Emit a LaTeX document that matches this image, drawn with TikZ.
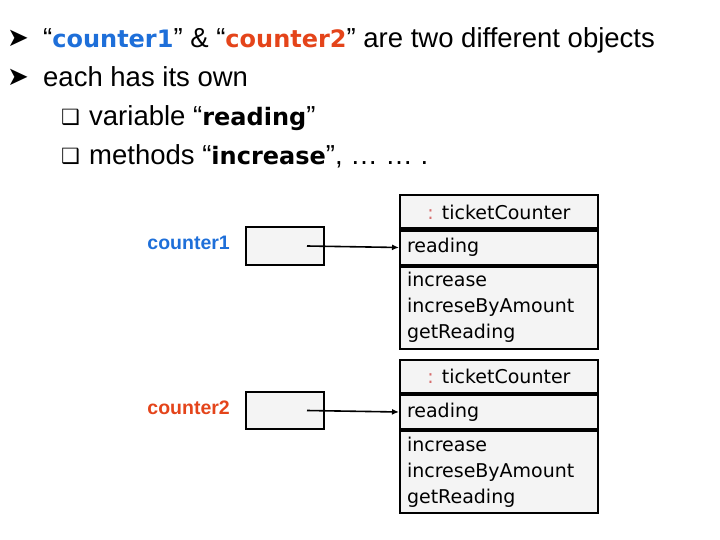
\documentclass[tikz,border=0pt]{standalone}
\usepackage{fontspec}
\setmainfont{Liberation Sans}
\newfontfamily\symfont{DejaVu Sans}
\newfontfamily\uifont{DejaVu Sans}
\newfontfamily\keyfont{DejaVu Sans}
\usetikzlibrary{arrows.meta}

\definecolor{objblue}{RGB}{30,111,217}
\definecolor{objred}{RGB}{228,68,26}
\definecolor{colonred}{RGB}{214,110,110}
\definecolor{boxgray}{RGB}{244,244,244}

\newcommand{\kw}[1]{{\keyfont\bfseries\fontsize{24}{28}\selectfont #1}}

\begin{document}
\begin{tikzpicture}[
  x=1pt, y=-1pt,
  txt/.style={anchor=base west, inner sep=0pt, font=\fontsize{27.5}{30}\selectfont},
  bul/.style={anchor=base west, inner sep=0pt, font=\symfont\fontsize{26}{28}\selectfont},
  chk/.style={anchor=base west, inner sep=0pt, font=\symfont\fontsize{21}{26}\selectfont},
  refbox/.style={draw, line width=2pt, fill=boxgray, minimum width=78pt,
                 minimum height=37pt, inner sep=0pt},
  vname/.style={anchor=east, inner sep=0pt, font=\bfseries\fontsize{19.5}{22}\selectfont},
  hdr/.style={draw, line width=2pt, fill=boxgray, minimum width=198pt,
              minimum height=33pt, inner sep=0pt, font=\uifont\fontsize{19}{22}\selectfont},
  attr/.style={draw, line width=2pt, fill=boxgray, minimum width=198pt,
               minimum height=34pt, inner sep=0pt, font=\uifont\fontsize{19}{22}\selectfont},
  meth/.style={draw, line width=2pt, fill=boxgray, text width=184pt, align=left,
               minimum height=82pt, inner xsep=7pt, inner ysep=0pt,
               font=\uifont\fontsize{19}{26}\selectfont},
  arr/.style={-{Latex[length=7pt,width=6pt]}, line width=1.6pt},
]
\useasboundingbox (0,0) rectangle (720,540);

% ---- bullet text ----
\node[bul] (b1) at (7,47) {➤};
\node[txt] (l1) at (43,48)
  {“\textcolor{objblue}{\kw{counter1}}” \& “\textcolor{objred}{\kw{counter2}}” are two different objects};
\node[bul] (b2) at (7,86) {➤};
\node[txt] (l2) at (43,87) {each has its own};
\node[chk] (b3) at (61,125) {❑};
\node[txt] (l3) at (89,126) {variable “\kw{reading}”};
\node[chk] (b4) at (61,164) {❑};
\node[txt] (l4) at (89,165) {methods “\kw{increase}”, … … .};

% ---- two objects ----
\foreach \n/\dy/\col in {1/0/objblue, 2/164.5/objred} {
  \node[refbox] (ref\n) at (285,246+\dy) {};
  \node[vname, text=\col] (var\n) at (230,243+\dy) {counter\n};
  \node[hdr] (hdr\n) at (499,212+\dy) {\textcolor{colonred}{:} ticketCounter};
  \node[attr, anchor=north] (att\n) at (hdr\n.south)
    {\hbox to 184pt{reading\hfil}};
  \node[meth, anchor=north] (met\n) at (att\n.south)
    {increase\\increseByAmount\\getReading};
  \draw[arr] ([xshift=22pt]ref\n.center) -- (att\n.west);
}
\end{tikzpicture}
\end{document}
